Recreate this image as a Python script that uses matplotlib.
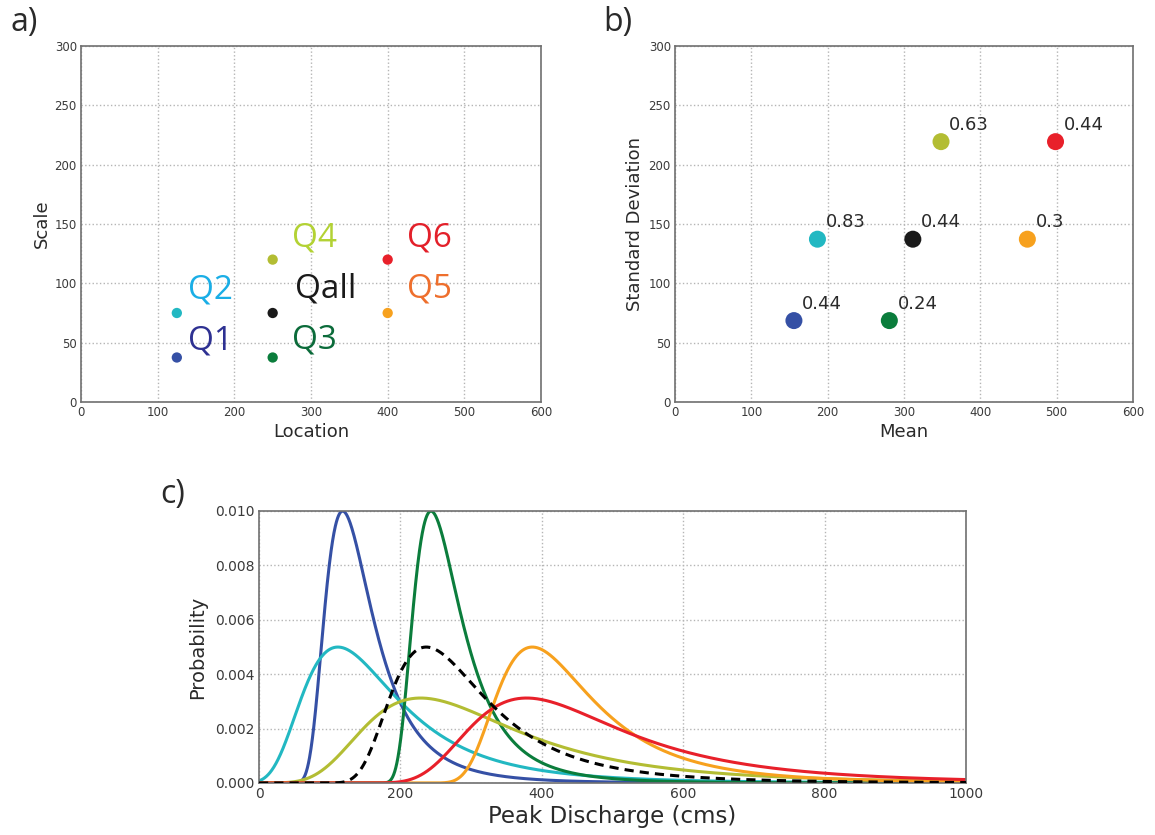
import numpy as np
import matplotlib
matplotlib.use("Agg")
import matplotlib.pyplot as plt

# ---- data -------------------------------------------------------------
quadrants = ["Q1", "Q2", "Q3", "Q4", "Q5", "Q6", "Qall"]
location = [125, 125, 250, 250, 400, 400, 250]
scale = [37.5, 75, 37.5, 120, 75, 120, 75]
shape = 0.2  # GEV shape parameter shared by all quadrants

mean = [155.8, 186.6, 280.8, 348.5, 461.6, 498.5, 311.6]
std_dev = [68.6, 137.2, 68.6, 219.4, 137.2, 219.4, 137.2]
b_labels = ["0.44", "0.83", "0.24", "0.63", "0.3", "0.44", "0.44"]

# ---- styling ----------------------------------------------------------
dot_colors = ["#3550a5", "#22b8c2", "#0b7d3c", "#b3bd33", "#f7a11e", "#e8202a", "#1a1a1a"]
text_colors = ["#2e3192", "#1aaee6", "#0b6b3a", "#b3d234", "#ee6f2d", "#e3202a", "#1a1a1a"]
# label offsets (points) for the quadrant names in panel a
q_offsets = [(8.0, 5.8), (8.0, 10.8), (13.6, 6.8), (13.6, 9.1),
             (13.6, 11.5), (13.6, 9.1), (15.8, 11.5)]

spine_col = "#707070"
tick_col = "#3a3a3a"
label_col = "#2a2a2a"
grid_kw = dict(color="#b5b5b5", linestyle=":", linewidth=1.0)

W, H = 1155, 835
fig = plt.figure(figsize=(W / 100, H / 100), dpi=100)
fig.patch.set_facecolor("white")


def px_axes(left, right, top, bottom):
    return fig.add_axes([left / W, 1 - bottom / H, (right - left) / W, (bottom - top) / H])


def style_axes(ax, tick_size):
    for s in ax.spines.values():
        s.set_color(spine_col)
        s.set_linewidth(1.2)
    ax.tick_params(length=0, labelsize=tick_size, labelcolor=tick_col, pad=3)
    ax.grid(True, **grid_kw)
    ax.set_axisbelow(True)


# ---- panel a: location vs scale ---------------------------------------
ax_a = px_axes(81, 541, 46, 402)
style_axes(ax_a, 8.5)
ax_a.set_xlim(0, 600)
ax_a.set_ylim(0, 300)
ax_a.set_xticks(range(0, 601, 100))
ax_a.set_yticks(range(0, 301, 50))
ax_a.scatter(location, scale, s=55, c=dot_colors, edgecolors="none", zorder=3)
for name, x, y, col, off in zip(quadrants, location, scale, text_colors, q_offsets):
    ax_a.annotate(name, (x, y), xytext=off, textcoords="offset points",
                  ha="left", va="baseline", fontsize=24, color=col,
                  family="Open Sans")
ax_a.set_xlabel("Location", fontsize=13, color=label_col, labelpad=3)
ax_a.set_ylabel("Scale", fontsize=13, color=label_col, labelpad=3)
fig.text(10 / W, 1 - 22 / H, "a)", fontsize=23, family="Open Sans",
         color=label_col, va="center", ha="left")

# ---- panel b: mean vs standard deviation ------------------------------
ax_b = px_axes(675, 1133, 46, 402)
style_axes(ax_b, 8.5)
ax_b.set_xlim(0, 600)
ax_b.set_ylim(0, 300)
ax_b.set_xticks(range(0, 601, 100))
ax_b.set_yticks(range(0, 301, 50))
ax_b.scatter(mean, std_dev, s=150, c=dot_colors, edgecolors="none", zorder=3)
for lab, x, y in zip(b_labels, mean, std_dev):
    ax_b.annotate(lab, (x, y), xytext=(6, 8.6), textcoords="offset points",
                  ha="left", va="baseline", fontsize=13, color=label_col)
ax_b.set_xlabel("Mean", fontsize=13, color=label_col, labelpad=3)
ax_b.set_ylabel("Standard Deviation", fontsize=13, color=label_col, labelpad=3)
fig.text(603 / W, 1 - 22 / H, "b)", fontsize=23, family="Open Sans",
         color=label_col, va="center", ha="left")

# ---- panel c: GEV probability density curves ---------------------------
ax_c = px_axes(259, 966, 511, 783)
style_axes(ax_c, 10)
x = np.linspace(0, 1000, 2001)


def gev_pdf(xv, mu, sigma, xi):
    z = 1 + xi * (xv - mu) / sigma
    out = np.zeros_like(xv)
    ok = z > 0
    t = z[ok] ** (-1.0 / xi)
    out[ok] = t ** (xi + 1) * np.exp(-t) / sigma
    return out


for name, mu, sig, col in zip(quadrants, location, scale, dot_colors):
    if name == "Qall":
        ax_c.plot(x, gev_pdf(x, mu, sig, shape), color="black", lw=2.2,
                  linestyle=(0, (3, 2)), zorder=3)
    else:
        ax_c.plot(x, gev_pdf(x, mu, sig, shape), color=col, lw=2.2, zorder=2)

ax_c.set_xlim(0, 1000)
ax_c.set_ylim(0, 0.010)
ax_c.set_xticks(range(0, 1001, 200))
ax_c.set_yticks(np.arange(0, 0.0101, 0.002))
ax_c.yaxis.set_major_formatter(matplotlib.ticker.FormatStrFormatter("%.3f"))
ax_c.set_xlabel("Peak Discharge (cms)", fontsize=16.5, color=label_col, labelpad=3)
ax_c.set_ylabel("Probability", fontsize=14, color=label_col, labelpad=6)
fig.text(160 / W, 1 - 495 / H, "c)", fontsize=23, family="Open Sans",
         color=label_col, va="center", ha="left")

fig.savefig("out.png", dpi=100, facecolor="white")
